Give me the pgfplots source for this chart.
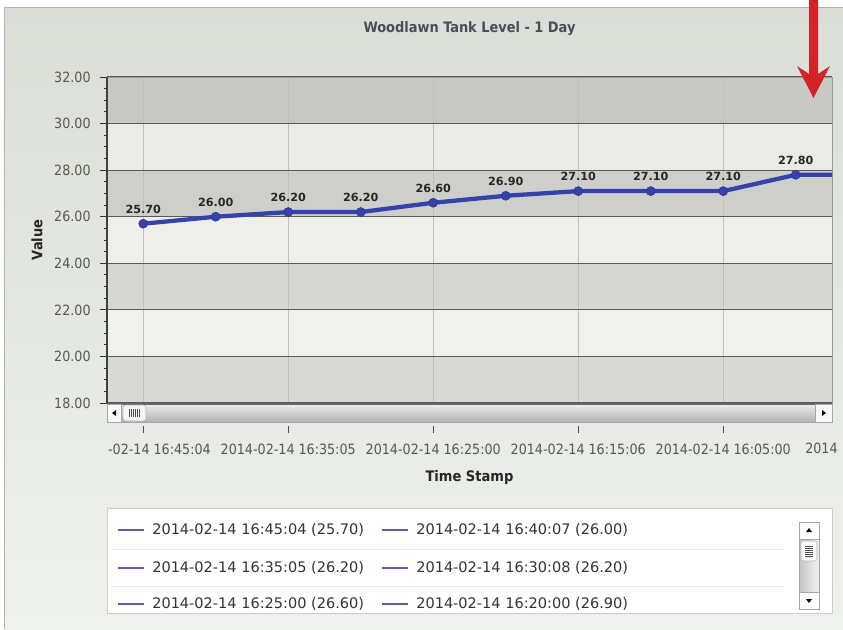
\documentclass[border=0pt]{standalone}
\usepackage{pgfplots}
\pgfplotsset{compat=1.18}
\usepackage{fontspec}
\setmainfont{DejaVu Sans Condensed}
\newfontfamily\legfont{DejaVu Sans}
\definecolor{bgtop}{RGB}{218,222,215}
\definecolor{bgbot}{RGB}{238,241,236}
\definecolor{bandA}{RGB}{200,201,196}
\definecolor{bandB}{RGB}{234,235,231}
\definecolor{bandC}{RGB}{206,207,202}
\definecolor{bandD}{RGB}{238,239,235}
\definecolor{bandE}{RGB}{214,215,210}
\definecolor{bandF}{RGB}{240,240,236}
\definecolor{bandG}{RGB}{216,216,212}
\definecolor{lineblue}{RGB}{52,66,170}
\definecolor{tickcol}{RGB}{85,88,74}
\definecolor{titlecol}{RGB}{72,78,88}
\definecolor{legline}{RGB}{100,90,180}
\definecolor{arrowred}{RGB}{212,34,40}
\pgfdeclareverticalshading{bands}{100bp}{%
  color(0bp)=(bandG); color(32.14bp)=(bandG);
  color(32.15bp)=(bandF); color(39.28bp)=(bandF);
  color(39.29bp)=(bandE); color(46.42bp)=(bandE);
  color(46.43bp)=(bandD); color(53.57bp)=(bandD);
  color(53.58bp)=(bandC); color(60.71bp)=(bandC);
  color(60.72bp)=(bandB); color(67.85bp)=(bandB);
  color(67.86bp)=(bandA); color(100bp)=(bandA)}
\begin{document}
\begin{tikzpicture}
\begin{scope}[x=0.75pt,y=-0.75pt]
\path[use as bounding box] (0,0) rectangle (843,629);
\fill[white] (0,0) rectangle (843,629);
\shade[top color=bgtop, bottom color=bgbot] (4,7) rectangle (843,629);
\draw[gray!60] (4,629) -- (4,7) -- (843,7);
\end{scope}
\begin{axis}[
  at={(80.25pt,-302.25pt)}, anchor=south west,
  scale only axis, width=543.75pt, height=244.5pt,
  axis background/.style={shade, shading=bands},
  /pgf/number format/assume math mode=true,
  xmin=-0.5, xmax=9.5, ymin=18, ymax=32,
  xtick={0,2,4,6,8},
  xticklabels={{\phantom{2014}-02-14 16:45:04},{2014-02-14 16:35:05},{2014-02-14 16:25:00},{2014-02-14 16:15:06},{2014-02-14 16:05:00}},
  ytick={18,20,...,32},
  minor y tick num=3,
  tick pos=left, tick align=outside,
  major tick length=5.25pt, minor tick length=2.25pt,
  x tick style={yshift=-17pt, black!70, line width=0.7pt},
  y tick style={black!80, line width=0.7pt},
  xmajorgrids, ymajorgrids,
  x grid style={black!25, line width=0.6pt},
  y grid style={black!65, line width=0.9pt},
  axis line style={draw=black!40, line width=0.6pt},
  yticklabel style={font=\fontsize{10.6}{12}\selectfont, text=tickcol, xshift=-3.5pt,
    /pgf/number format/fixed, /pgf/number format/fixed zerofill, /pgf/number format/precision=2},
  xticklabel style={font=\fontsize{10.6}{12}\selectfont, text=tickcol, yshift=-22pt},
  title={Woodlawn Tank Level - 1 Day},
  title style={at={(axis description cs:0.5,1.1227)}, anchor=center, font=\bfseries\fontsize{10.8}{12}\selectfont, text=titlecol},
  xlabel={Time Stamp},
  xlabel style={at={(axis description cs:0.5,-0.2285)}, anchor=center, font=\bfseries\fontsize{10.9}{12}\selectfont, text=black!85},
  ylabel={Value},
  ylabel style={at={(axis description cs:-0.0966,0.5)}, anchor=center, font=\bfseries\fontsize{10.8}{12}\selectfont, text=black!85},
]
\addplot[lineblue, line width=3.2pt, line join=round, no markers]
  coordinates {(0,25.70) (1,26.00) (2,26.20) (3,26.20) (4,26.60) (5,26.90) (6,27.10) (7,27.10) (8,27.10) (9,27.80) (10,27.80)};
\addplot[only marks, mark=*, mark size=3.4pt, mark options={fill=lineblue, draw=lineblue!85!black},
  point meta=y,
  nodes near coords={\pgfmathprintnumber[fixed,fixed zerofill,precision=2]{\pgfplotspointmeta}},
  every node near coord/.append style={anchor=south, yshift=4pt, text=black!85, font=\legfont\bfseries\fontsize{8.4}{9}\selectfont}]
  coordinates {(0,25.70) (1,26.00) (2,26.20) (3,26.20) (4,26.60) (5,26.90) (6,27.10) (7,27.10) (8,27.10) (9,27.80)};
\end{axis}
\begin{scope}[x=0.75pt,y=-0.75pt]
% scrollbar under plot
\shade[top color=gray!15, middle color=white, bottom color=gray!60] (107,404) rectangle (832,422);
\draw[gray!70] (107,404) rectangle (832,422);
\draw[black!75, line width=0.9pt] (107,77) -- (107,404);
\draw[black!60, line width=0.9pt] (107,404) -- (832,404);
\filldraw[fill=gray!5, draw=gray!70] (107,404) rectangle (121,422);
\fill[black] (112,413) -- (116,410) -- (116,416) -- cycle;
\filldraw[fill=gray!8, draw=gray!60, rounded corners=2] (123,405) rectangle (146,421);
\foreach \xx in {129,131,...,139} \draw[black!70, line width=0.5pt] (\xx,409) -- (\xx,417);
\filldraw[fill=gray!5, draw=gray!70] (815,404) rectangle (832,422);
\fill[black] (826,413) -- (822,410) -- (822,416) -- cycle;
\node[anchor=west, inner sep=0, font=\fontsize{10.6}{12}\selectfont, text=tickcol] at (805,448) {2014};
% legend box
\fill[black!6] (109,510) rectangle (834,615);
\filldraw[fill=white, draw=gray!40] (107,508) rectangle (832,613);
\draw[black!8] (112,549) -- (785,549);
\draw[black!8] (112,586) -- (785,586);
\begin{scope}
\clip (107,508) rectangle (832,612.5);
\foreach \yy/\ta/\tb in {530/{2014-02-14 16:45:04 (25.70)}/{2014-02-14 16:40:07 (26.00)},
                         568/{2014-02-14 16:35:05 (26.20)}/{2014-02-14 16:30:08 (26.20)},
                         604/{2014-02-14 16:25:00 (26.60)}/{2014-02-14 16:20:00 (26.90)}} {
  \draw[legline, line width=0.9pt] (118,\yy) -- (144,\yy);
  \node[anchor=west, inner sep=0, font=\legfont\fontsize{10.9}{12}\selectfont, text=black!80] at (152,\yy) {\ta};
  \draw[legline, line width=0.9pt] (382,\yy) -- (408,\yy);
  \node[anchor=west, inner sep=0, font=\legfont\fontsize{10.9}{12}\selectfont, text=black!80] at (416,\yy) {\tb};
}
\end{scope}
% legend scrollbar
\shade[left color=gray!45, right color=gray!10] (799,522) rectangle (819,609);
\draw[gray!70] (799,522) rectangle (819,609);
\filldraw[fill=white, draw=gray!70] (799,522) rectangle (819,539);
\fill[black] (806,532) -- (812,532) -- (809,528) -- cycle;
\filldraw[fill=gray!5, draw=gray!60, rounded corners=2] (801,541) rectangle (817,561);
\foreach \yy in {546,548,...,556} \draw[black!70, line width=0.5pt] (805,\yy) -- (813,\yy);
\filldraw[fill=white, draw=gray!70] (799,592) rectangle (819,609);
\fill[black] (806,599) -- (812,599) -- (809,603) -- cycle;
% red arrow
\fill[arrowred] (809,0) -- (818,0) -- (818,74) -- (830,66) -- (813.5,98) -- (797,66) -- (809,74) -- cycle;
\end{scope}
\end{tikzpicture}
\end{document}
